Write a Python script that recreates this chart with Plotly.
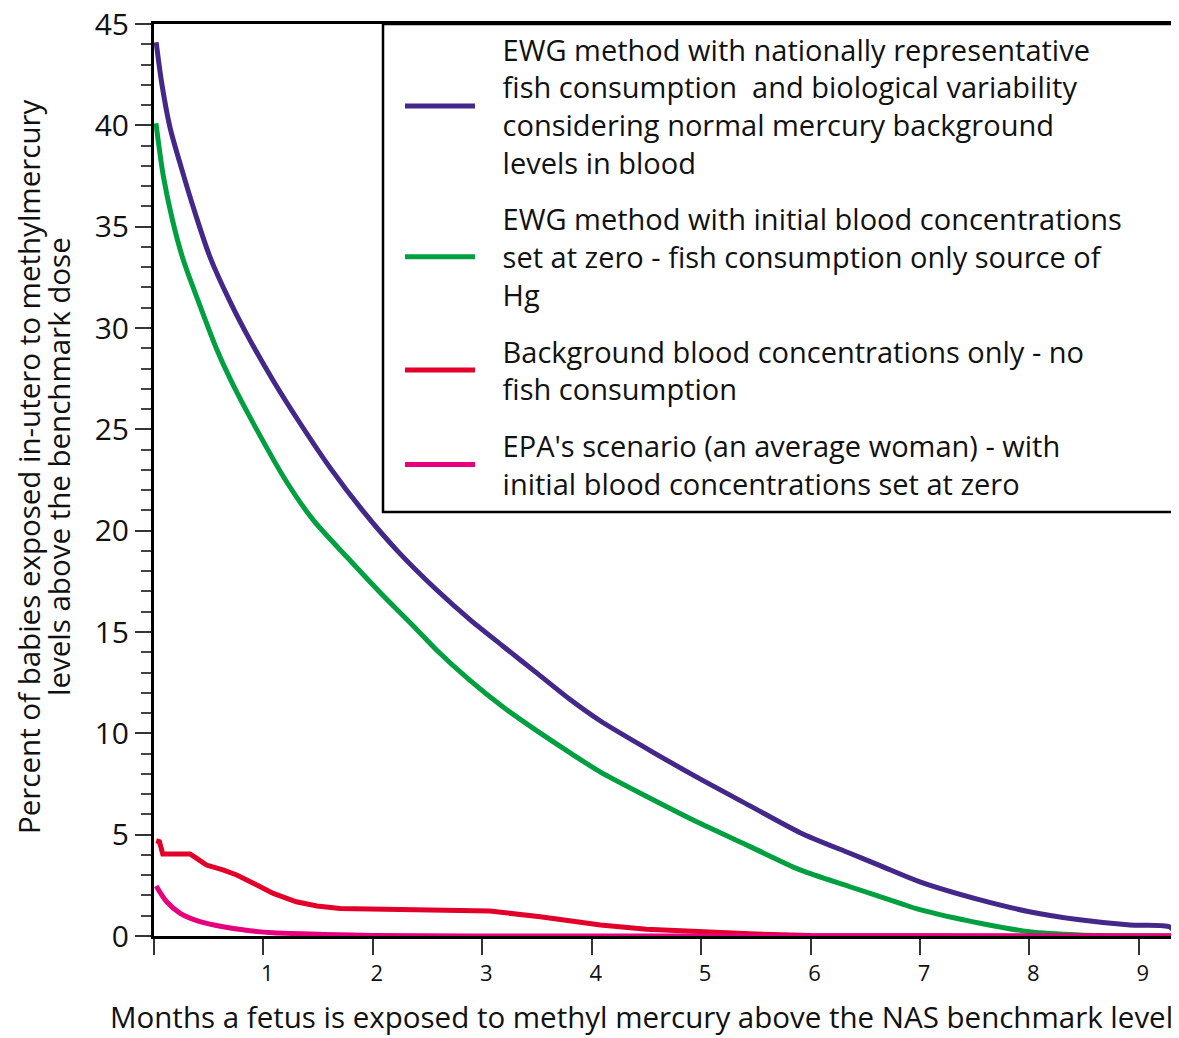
import plotly.graph_objects as go

# ---- data ----
ewg_nat_x = [0.02, 0.07, 0.146, 0.25, 0.38, 0.512, 0.695, 0.877, 1.09, 1.335, 1.61, 1.913,
             2.218, 2.584, 2.89, 3.19, 3.5, 3.80, 4.077, 4.534, 4.99, 5.448, 5.905,
             6.36, 6.636, 7.0, 7.55, 8.0, 8.46, 8.92, 9.29, 9.34]
ewg_nat_y = [44.1, 42.1, 39.9, 37.9, 35.6, 33.5, 31.3, 29.4, 27.4, 25.3, 23.1, 20.95,
             19.04, 17.07, 15.6, 14.3, 12.97, 11.68, 10.62, 9.15, 7.75, 6.42, 5.1,
             4.08, 3.47, 2.67, 1.78, 1.2, 0.8, 0.54, 0.43, 0.0]

ewg_zero_x = [0.018, 0.085, 0.17, 0.268, 0.42, 0.573, 0.695, 0.877, 1.213, 1.456, 1.761, 2.066,
              2.37, 2.584, 2.89, 3.19, 3.5, 3.80, 4.077, 4.534, 4.99, 5.448, 5.905, 6.36,
              6.82, 7.0, 7.55, 8.0, 8.46, 9.0, 9.34]
ewg_zero_y = [40.1, 37.5, 35.3, 33.35, 31.1, 28.95, 27.5, 25.6, 22.4, 20.52, 18.71, 16.95,
              15.3, 14.1, 12.6, 11.3, 10.12, 9.05, 8.1, 6.8, 5.56, 4.41, 3.26, 2.43,
              1.61, 1.3, 0.63, 0.21, 0.05, 0.0, 0.0]

bg_x = [0.02, 0.05, 0.08, 0.33, 0.39, 0.48, 0.63, 0.756, 0.94, 1.09, 1.30, 1.49, 1.70,
        2.157, 2.61, 3.07, 3.53, 4.08, 4.5, 4.99, 5.5, 6.0, 7.0, 8.0, 9.34]
bg_y = [4.70, 4.65, 4.05, 4.05, 3.83, 3.50, 3.26, 3.01, 2.52, 2.1, 1.69, 1.48, 1.36,
        1.31, 1.31, 1.23, 0.95, 0.54, 0.33, 0.21, 0.1, 0.03, 0.0, 0.0, 0.0]

epa_x = [0.02, 0.116, 0.24, 0.42, 0.63, 0.877, 1.09, 1.55, 2.0, 3.0, 9.34]
epa_y = [2.47, 1.69, 1.12, 0.71, 0.46, 0.26, 0.16, 0.08, 0.03, 0.0, 0.0]

legend_lines = [
    ["EWG method with nationally representative", "fish consumption  and biological variability",
     "considering normal mercury background", "levels in blood"],
    ["EWG method with initial blood concentrations", "set at zero - fish consumption only source of", "Hg"],
    ["Background blood concentrations only - no", "fish consumption"],
    ["EPA's scenario (an average woman) - with", "initial blood concentrations set at zero"],
]
colors = ["#43288a", "#00a040", "#e2002b", "#e6007e"]
x_ticks = [0, 1, 2, 3, 4, 5, 6, 7, 8, 9]
x_tick_text = ["", "1", "2", "3", "4", "5", "6", "7", "8", "9"]
y_ticks = [0, 5, 10, 15, 20, 25, 30, 35, 40, 45]

FONT = "Open Sans"
TXT = "#111111"
PAD = "\u00a0\u00a0\u00a0"

fig = go.Figure()
series = [(ewg_nat_x, ewg_nat_y, "spline"), (ewg_zero_x, ewg_zero_y, "spline"),
          (bg_x, bg_y, "linear"), (epa_x, epa_y, "spline")]
for i, (xs, ys, shp) in enumerate(series):
    fig.add_trace(go.Scatter(
        x=xs, y=ys, mode="lines", name="<br>".join(PAD + s for s in legend_lines[i]),
        legendgroup=f"g{i}",
        line=dict(color=colors[i], width=5, shape=shp, smoothing=0.8 if shp == "spline" else None),
        cliponaxis=False,
    ))

fig.update_layout(
    width=1171, height=1030,
    margin=dict(l=146, r=3, t=16, b=102),
    paper_bgcolor="white", plot_bgcolor="white",
    font=dict(family=FONT, color=TXT, size=29),
    showlegend=True,
    legend=dict(
        x=(400 - 154) / 1022, xanchor="left",
        y=(936 - 24) / 912, yanchor="top",
        bgcolor="rgba(0,0,0,0)", borderwidth=0,
        traceorder="grouped", tracegroupgap=16, valign="middle",
        itemwidth=70, font=dict(family=FONT, size=29, color=TXT),
    ),
    xaxis=dict(
        range=[0, 9.34], tickvals=x_ticks, ticktext=x_tick_text,
        ticks="outside", ticklen=16, tickwidth=2, tickcolor="#333333",
        showline=True, linecolor="black", linewidth=3, mirror=True,
        showgrid=False, zeroline=False, layer="below traces",
        tickfont=dict(family=FONT, size=22, color=TXT),
        ticklabelshift=4,
    ),
    yaxis=dict(
        range=[0, 45], tickvals=y_ticks,
        ticks="outside", ticklen=16, tickwidth=2, tickcolor="#333333",
        minor=dict(dtick=1, ticks="outside", ticklen=10, tickwidth=1.5, tickcolor="#444444", showgrid=False),
        showline=True, linecolor="black", linewidth=3, mirror=True,
        showgrid=False, zeroline=False, layer="below traces",
        tickfont=dict(family=FONT, size=30, color=TXT),
        ticklabeloverflow="allow", automargin=False,
    ),
    shapes=[dict(type="rect", xref="paper", yref="paper",
                 x0=(383 - 154) / 1022, x1=1, y0=(936 - 512) / 912, y1=1,
                 line=dict(color="black", width=2.5), fillcolor="white", layer="above")],
    annotations=[
        dict(text="Percent of babies exposed in-utero to methylmercury", xref="paper", yref="paper",
             x=(28 - 154) / 1022, y=(936 - 467) / 912, xanchor="center", yanchor="middle",
             textangle=-90, showarrow=False, font=dict(family=FONT, size=29.5, color=TXT)),
        dict(text="levels above the benchmark dose", xref="paper", yref="paper",
             x=(58 - 154) / 1022, y=(936 - 467) / 912, xanchor="center", yanchor="middle",
             textangle=-90, showarrow=False, font=dict(family=FONT, size=29.5, color=TXT)),
        dict(text="Months a fetus is exposed to methyl mercury above the NAS benchmark level",
             xref="paper", yref="paper", x=(1175 - 154) / 1022, y=(936 - 1016) / 912,
             xanchor="right", yanchor="middle", showarrow=False,
             font=dict(family=FONT, size=29.5, color=TXT)),
    ],
)

fig.write_html("out.html")
